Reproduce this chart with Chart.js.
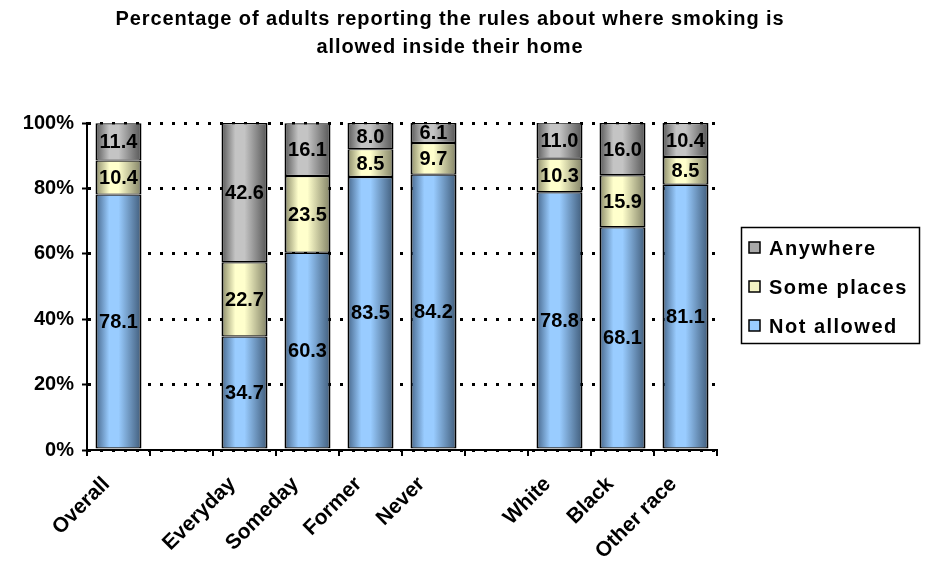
<!DOCTYPE html>
<html>
<head>
<meta charset="utf-8">
<script src="https://cdn.jsdelivr.net/npm/chart.js@4/dist/chart.umd.min.js"></script>
<style>
  html, body { margin: 0; padding: 0; background: #ffffff; }
  #wrap { width: 926px; height: 569px; }
</style>
</head>
<body>
<div id="wrap"><canvas id="c" width="926" height="569"></canvas></div>
<script>
// ---- data ----
const titleLines = ["Percentage of adults reporting the rules about where smoking is", "allowed inside their home"];
const categories = ["Overall", "", "Everyday", "Someday", "Former", "Never", "", "White", "Black", "Other race"];
const notAllowed  = [78.1, null, 34.7, 60.3, 83.5, 84.2, null, 78.8, 68.1, 81.1];
const somePlaces  = [10.4, null, 22.7, 23.5, 8.5, 9.7, null, 10.3, 15.9, 8.5];
const anywhere    = [11.4, null, 42.6, 16.1, 8.0, 6.1, null, 11.0, 16.0, 10.4];
const seriesNames = ["Not allowed", "Some places", "Anywhere"];
const yTicks = [0, 20, 40, 60, 80, 100];

// ---- styles ----
const FONT = "'Liberation Sans', Arial, sans-serif";
const BAR_FRACTION = 0.73;
const palettes = {
  "Not allowed": { edgeL: "#47678b", mid: "#99ccff", edgeR: "#405c7a", swatch: "#99ccff" },
  "Some places": { edgeL: "#8a8a68", mid: "#ffffcc", edgeR: "#818165", swatch: "#f4f4c4" },
  "Anywhere":    { edgeL: "#585858", mid: "#c4c4c4", edgeR: "#555555", swatch: "#a8a8a8" }
};

function gradientFor(name) {
  const p = palettes[name];
  return function (ctx) {
    const chart = ctx.chart;
    const xs = chart.scales && chart.scales.x;
    if (!xs || ctx.type !== 'data') return p.mid;
    const cx = xs.getPixelForValue(ctx.dataIndex);
    const slot = xs.width / categories.length;
    const w = slot * BAR_FRACTION;
    if (!isFinite(cx) || !isFinite(w) || w <= 0) return p.mid;
    const g = chart.ctx.createLinearGradient(cx - w / 2, 0, cx + w / 2, 0);
    g.addColorStop(0, p.edgeL);
    g.addColorStop(0.3, p.mid);
    g.addColorStop(0.5, p.mid);
    g.addColorStop(1, p.edgeR);
    return g;
  };
}

const titlePlugin = {
  id: 'customTitle',
  afterDraw(chart) {
    const c = chart.ctx;
    c.save();
    c.fillStyle = '#000';
    c.font = "bold 20px " + FONT;
    c.textAlign = 'center';
    c.textBaseline = 'alphabetic';
    if ('letterSpacing' in c) c.letterSpacing = '0.9px';
    c.fillText(titleLines[0], 450, 25);
    c.fillText(titleLines[1], 450, 53);
    c.restore();
  }
};

const valueLabels = {
  id: 'valueLabels',
  afterDatasetsDraw(chart) {
    const c = chart.ctx;
    c.save();
    c.fillStyle = '#000';
    c.font = "bold 20px " + FONT;
    c.textAlign = 'center';
    c.textBaseline = 'middle';
    chart.data.datasets.forEach((ds, di) => {
      const meta = chart.getDatasetMeta(di);
      meta.data.forEach((el, i) => {
        const v = ds.data[i];
        if (v === null || v === undefined) return;
        c.fillText(v.toFixed(1), el.x, (el.y + el.base) / 2 + 1);
      });
    });
    c.restore();
  }
};

const legendBox = {
  id: 'legendBox',
  afterDraw(chart) {
    const c = chart.ctx;
    c.save();
    c.strokeStyle = '#000';
    c.lineWidth = 1.5;
    c.strokeRect(741.5, 227.5, 178, 116);
    const order = chart.data.datasets.slice().reverse();
    const rowsY = [248, 287, 326];
    c.font = "bold 20px " + FONT;
    if ('letterSpacing' in c) c.letterSpacing = '1.5px';
    c.textBaseline = 'middle';
    c.textAlign = 'left';
    order.forEach((ds, k) => {
      const y = rowsY[k];
      c.fillStyle = palettes[ds.label].swatch;
      c.fillRect(749, y - 6, 11, 11);
      c.lineWidth = 1.5;
      c.strokeStyle = '#000';
      c.strokeRect(749, y - 6, 11, 11);
      c.fillStyle = '#000';
      c.fillText(ds.label, 769, y + 1);
    });
    c.restore();
  }
};

const datasets = [notAllowed, somePlaces, anywhere].map((arr, i) => ({
  label: seriesNames[i],
  data: arr,
  backgroundColor: gradientFor(seriesNames[i]),
  borderColor: '#000',
  borderWidth: { top: 1.2, bottom: 1.2, left: 2, right: 2 },
  borderSkipped: false,
  barPercentage: BAR_FRACTION,
  categoryPercentage: 1.0
}));

new Chart(document.getElementById('c'), {
  type: 'bar',
  data: { labels: categories, datasets: datasets },
  options: {
    responsive: false,
    devicePixelRatio: 1,
    animation: false,
    layout: { padding: { top: 123, right: 209, bottom: 0, left: 0 } },
    plugins: { legend: { display: false }, title: { display: false }, tooltip: { enabled: false } },
    scales: {
      x: {
        stacked: true,
        offset: true,
        afterFit(s) { s.height = 119; },
        border: { display: true, color: '#000', width: 2 },
        grid: { display: true, drawOnChartArea: false, drawTicks: true, offset: true, tickLength: 6, color: '#000', lineWidth: 2 },
        ticks: {
          autoSkip: false, maxRotation: 45, minRotation: 45,
          color: '#000', padding: 16, labelOffset: -12,
          font: { family: FONT, size: 21, weight: 'bold' }
        }
      },
      y: {
        stacked: true,
        min: 0, max: 100,
        afterFit(s) { s.width = 87; },
        afterBuildTicks(s) { s.ticks = yTicks.map(v => ({ value: v })); },
        border: { display: true, color: '#000', width: 2, dash: [3, 9] },
        grid: {
          color: '#000', lineWidth: 3,
          tickLength: 5, tickBorderDash: [], tickWidth: 2, tickColor: '#000'
        },
        ticks: {
          color: '#000', padding: 8,
          font: { family: FONT, size: 20, weight: 'bold' },
          callback: v => v + '%'
        }
      }
    }
  },
  plugins: [titlePlugin, valueLabels, legendBox]
});
</script>
</body>
</html>
